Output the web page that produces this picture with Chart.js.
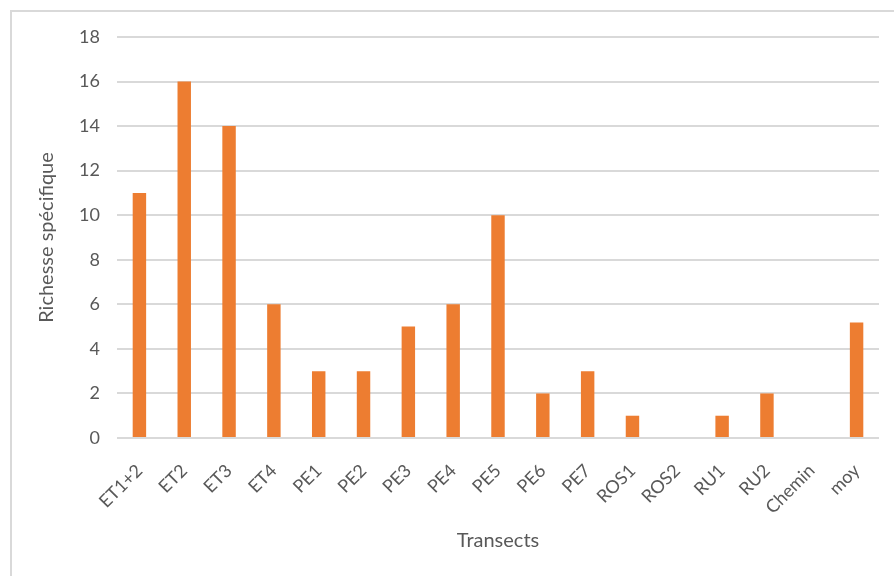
<!DOCTYPE html>
<html>
<head>
<meta charset="utf-8">
<script src="https://cdn.jsdelivr.net/npm/chart.js@4/dist/chart.umd.min.js"></script>
<style>
  html, body { margin: 0; padding: 0; background: #fff; overflow: hidden; }
  .wrap { position: relative; width: 894px; height: 576px; }
  .frame { position: absolute; left: 10px; top: 10px; width: 1000px; height: 700px;
           border-top: 2px solid #d9d9d9; border-left: 2px solid #d9d9d9; }
  canvas { position: absolute; left: 0; top: 0; }
</style>
</head>
<body>
<div class="wrap">
  <div class="frame"></div>
  <canvas id="richesse" width="894" height="576"></canvas>
</div>
<script>
const transects = ["ET1+2", "ET2", "ET3", "ET4", "PE1", "PE2", "PE3", "PE4", "PE5",
                   "PE6", "PE7", "ROS1", "ROS2", "RU1", "RU2", "Chemin", "moy"];
const richesse = [11, 16, 14, 6, 3, 3, 5, 6, 10, 2, 3, 1, 0, 1, 2, 0, 5.19];
const yTicks = [0, 2, 4, 6, 8, 10, 12, 14, 16, 18];

const textColor = "#595959";
const gridColor = "#d9d9d9";
const fontFamily = "Lato, 'Open Sans', sans-serif";

new Chart(document.getElementById("richesse"), {
  type: "bar",
  data: {
    labels: transects,
    datasets: [{
      label: "Richesse spécifique",
      data: richesse,
      backgroundColor: "#ED7D31",
      borderWidth: 0,
      categoryPercentage: 1,
      barPercentage: 0.3
    }]
  },
  options: {
    responsive: false,
    animation: false,
    layout: { padding: { top: 37, right: 15, left: 0, bottom: 0 } },
    plugins: { legend: { display: false }, tooltip: { enabled: false } },
    scales: {
      x: {
        grid: { display: false },
        border: { display: false },
        ticks: {
          color: textColor,
          font: { family: fontFamily, size: 18 },
          maxRotation: 45,
          minRotation: 45,
          padding: 14
        },
        title: {
          display: true,
          text: "Transects",
          color: textColor,
          font: { family: fontFamily, size: 20 },
          padding: { top: 0, bottom: 23 }
        },
        afterFit: (scale) => { scale.height = 138; }
      },
      y: {
        min: 0,
        max: 18,
        afterBuildTicks: (scale) => { scale.ticks = yTicks.map(v => ({ value: v })); },
        grid: { color: gridColor, lineWidth: 2, drawTicks: false },
        border: { display: false },
        ticks: {
          color: textColor,
          font: { family: fontFamily, size: 18 },
          padding: 17
        },
        title: {
          display: true,
          text: "Richesse spécifique",
          color: textColor,
          font: { family: fontFamily, size: 20 },
          padding: { top: 35, bottom: 0 }
        },
        afterFit: (scale) => { scale.width = 117; }
      }
    }
  }
});
</script>
</body>
</html>
